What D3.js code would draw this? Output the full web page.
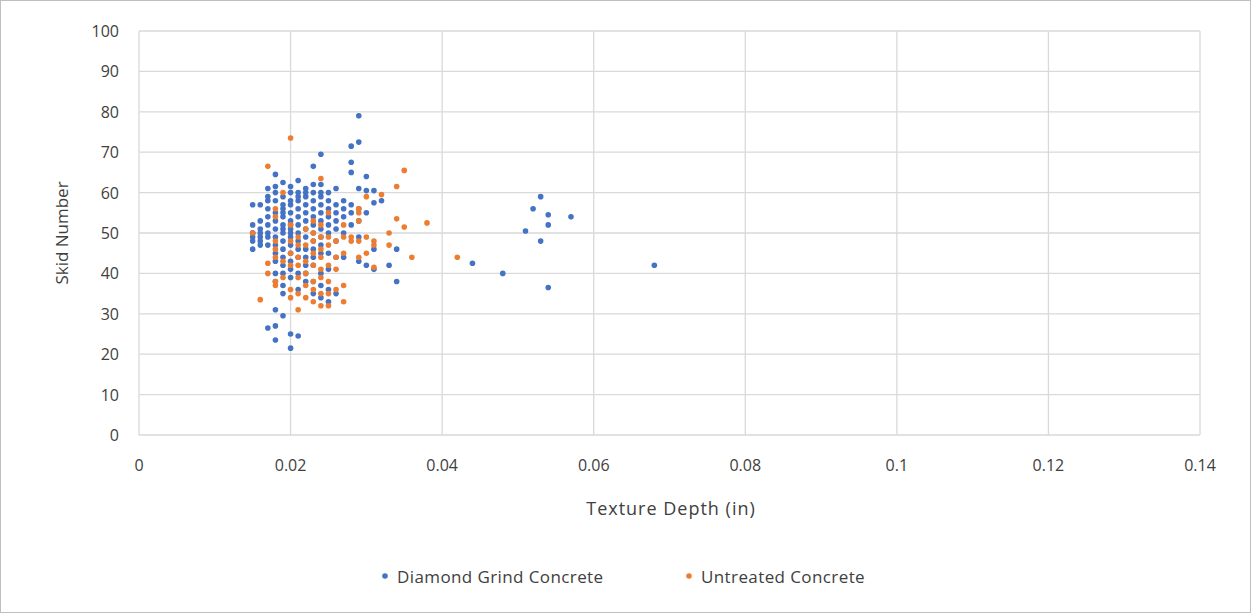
<!DOCTYPE html>
<html><head><meta charset="utf-8">
<script src="https://cdn.jsdelivr.net/npm/d3@7"></script>
<style>body{margin:0;background:#fff}text{font-family:"Open Sans","Liberation Sans",Arial,sans-serif;fill:#404040}</style>
</head><body><svg id="chart"></svg>
<script>
// y values grouped by texture depth column
const diamondCols = [
  [0.015, [46,48,50,52,57,50,49]],
  [0.016, [47,49,50,51,53,57,48]],
  [0.017, [26.5,47,49,50,52,54,56,58,59,61]],
  [0.018, [23.5,27,31,38,40,43,45,47,49,51,53,55,58,60,61.5,64.5]],
  [0.019, [29.5,35,37,40,42,44,46,48,50,51,52,54,55,56,57,59,62.5]],
  [0.020, [21.5,25,39,41,43,45,47,49,50,51,52,53,55,57,58,60,61.5]],
  [0.021, [24.5,36,40,44,46,48,50,52,54,56,58,59,60,63]],
  [0.022, [38,40,42,44,46,49,51,53,55,57,59,60,61]],
  [0.023, [35,38,42,44,46,48,50,52,54,56,58,60,62,66.5]],
  [0.024, [34,37,40,45,47,49,51,53,55,57,59,60,62,69.5]],
  [0.025, [33,36,41,45,50,52,54,56,58,60]],
  [0.026, [35,44,48,51,53,55,57,61]],
  [0.027, [44,50,54,56,58]],
  [0.028, [52,55,57,65,67.5,71.5]],
  [0.029, [43,49,53,56,61,72.5,79]],
  [0.030, [42,55,60.5,64]],
  [0.031, [41,46,57.5,60.5]],
  [0.032, [58]],
  [0.033, [42]],
  [0.034, [38,46]],
  [0.044, [42.5]],
  [0.048, [40]],
  [0.051, [50.5]],
  [0.052, [56]],
  [0.053, [48,59]],
  [0.054, [36.5,52,54.5]],
  [0.057, [54]],
  [0.068, [42]]
];
const untreatedCols = [
  [0.015, [50]],
  [0.016, [33.5]],
  [0.017, [66.5,40,42.5]],
  [0.018, [37,38,44,46,48,54,56]],
  [0.019, [39,43,60]],
  [0.020, [73.5,34,36,42,45,48,52]],
  [0.021, [31,35,39,42,44,47,49]],
  [0.022, [34,37,40,43,47,51]],
  [0.023, [33,36,38,42,45,48,50,53]],
  [0.024, [32,35,39,41,44,46,49,52,63.5]],
  [0.025, [32,35,38,42,47,49,55]],
  [0.026, [36,41,44,48]],
  [0.027, [33,37,45,49,52]],
  [0.028, [48,49]],
  [0.029, [44,48,53,55,56]],
  [0.030, [45,49,59]],
  [0.031, [41.5,47,48]],
  [0.032, [59.5]],
  [0.033, [47,50]],
  [0.034, [53.5,61.5]],
  [0.035, [51.5,65.5]],
  [0.036, [44]],
  [0.038, [52.5]],
  [0.042, [44]]
];
const xTicks = [0,0.02,0.04,0.06,0.08,0.1,0.12,0.14];
const yTicks = [0,10,20,30,40,50,60,70,80,90,100];
const seriesNames = ['Diamond Grind Concrete','Untreated Concrete'];
const colors = ['#4472C4','#ED7D31'];

const W = 1251, H = 613;
const svg = d3.select('#chart').attr('width', W).attr('height', H);
svg.append('rect').attr('x',0.5).attr('y',0.5).attr('width',W-1).attr('height',H-1)
  .attr('fill','#fff').attr('stroke','#bfbfbf');

const x = d3.scaleLinear().domain([0,0.14]).range([139,1200]);
const y = d3.scaleLinear().domain([0,100]).range([435,31]);

svg.append('g').selectAll('line').data(xTicks).join('line')
  .attr('x1',d=>x(d)).attr('x2',d=>x(d)).attr('y1',y(0)).attr('y2',y(100))
  .attr('stroke','#d9d9d9').attr('stroke-width',1.3);
svg.append('g').selectAll('line').data(yTicks).join('line')
  .attr('x1',x(0)).attr('x2',x(0.14)).attr('y1',d=>y(d)).attr('y2',d=>y(d))
  .attr('stroke','#d9d9d9').attr('stroke-width',1.3);

svg.append('g').selectAll('text').data(xTicks).join('text')
  .attr('x',d=>x(d)).attr('y',471).attr('text-anchor','middle').attr('font-size',16)
  .text(d=>d3.format('')(d));
svg.append('g').selectAll('text').data(yTicks).join('text')
  .attr('x',x(0)-20).attr('y',d=>y(d)+6).attr('text-anchor','end').attr('font-size',16)
  .text(d=>d);

svg.append('text').attr('x',671).attr('y',515).attr('text-anchor','middle')
  .attr('font-size',18).attr('letter-spacing',1).text('Texture Depth (in)');
svg.append('text').attr('transform','translate(68,233) rotate(-90)').attr('text-anchor','middle')
  .attr('font-size',17).text('Skid Number');

const flat = cols => cols.flatMap(([tx, ys]) => ys.map(v => ({x: tx, y: v})));
[diamondCols, untreatedCols].forEach((cols, i) => {
  svg.append('g').selectAll('circle').data(flat(cols)).join('circle')
    .attr('cx',d=>x(d.x)).attr('cy',d=>y(d.y)).attr('r',2.8).attr('fill',colors[i]);
});

const legend = svg.append('g');
const lx = [385, 689];
seriesNames.forEach((n,i)=>{
  legend.append('circle').attr('cx',lx[i]).attr('cy',576).attr('r',2.8).attr('fill',colors[i]);
  legend.append('text').attr('x',lx[i]+12).attr('y',583).attr('font-size',17).attr('letter-spacing',0.4).text(n);
});
</script></body></html>
